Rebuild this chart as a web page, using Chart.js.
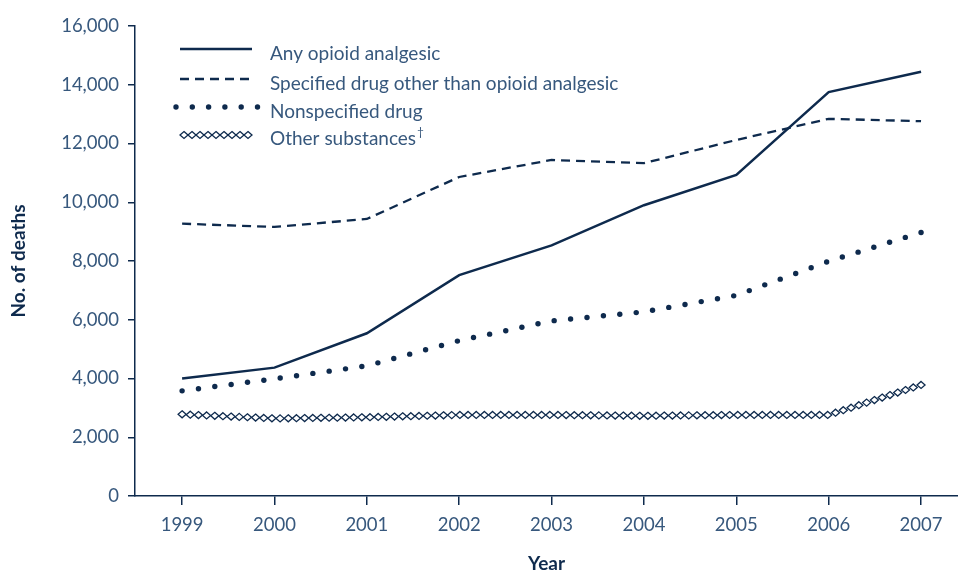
<!DOCTYPE html>
<html lang="en">
<head>
    <meta charset="UTF-8">
    <title>Deaths by drug type, 1999-2007</title>
    <script src="https://cdn.jsdelivr.net/npm/chart.js"></script>
    <style>
        html, body { margin: 0; padding: 0; background: #fff; }
        #wrap { position: relative; width: 958px; height: 570px; }
    </style>
</head>
<body>
    <div id="wrap"><canvas id="deathsChart"></canvas></div>

    <script>
        // Data
        const years = [1999, 2000, 2001, 2002, 2003, 2004, 2005, 2006, 2007];
        const anyOpioid = [4000, 4370, 5540, 7520, 8530, 9900, 10930, 13750, 14440];
        const specifiedOther = [9270, 9160, 9430, 10860, 11440, 11330, 12120, 12840, 12760];
        const nonspecified = [3580, 3990, 4430, 5290, 5960, 6270, 6830, 7990, 8970];
        const otherSubstances = [2780, 2640, 2680, 2760, 2760, 2730, 2760, 2760, 3780];
        const yTicks = [0, 2000, 4000, 6000, 8000, 10000, 12000, 14000, 16000];

        const navy = '#0e2a4d';
        const tickText = '#37587d';
        const fontFamily = 'Lato, "Open Sans", sans-serif';

        function pts(values) {
            return years.map((y, i) => ({ x: y, y: values[i] }));
        }

        function diamond(ctx, x, y, w, h) {
            ctx.beginPath();
            ctx.moveTo(x, y - h / 2);
            ctx.lineTo(x + w / 2, y);
            ctx.lineTo(x, y + h / 2);
            ctx.lineTo(x - w / 2, y);
            ctx.closePath();
            ctx.fillStyle = '#fff';
            ctx.fill();
            ctx.stroke();
        }

        function dot(ctx, x, y) {
            ctx.beginPath();
            ctx.arc(x, y, 2.7, 0, Math.PI * 2);
            ctx.fillStyle = navy;
            ctx.fill();
        }

        // walks along the dataset path and calls mark() at an even spacing
        function walkPath(p, wanted, mark) {
            let total = 0;
            for (let k = 0; k < p.length - 1; k++) total += Math.hypot(p[k + 1].x - p[k].x, p[k + 1].y - p[k].y);
            const n = Math.max(1, Math.round(total / wanted));
            const step = total / n;
            let carry = 0;
            for (let k = 0; k < p.length - 1; k++) {
                const dx = p[k + 1].x - p[k].x, dy = p[k + 1].y - p[k].y;
                const len = Math.hypot(dx, dy);
                let t = carry;
                while (t <= len + 0.01) {
                    mark(p[k].x + dx * t / len, p[k].y + dy * t / len);
                    t += step;
                }
                carry = t - len;
            }
        }

        // draws diamond chains and dot chains along the datasets
        const markedLines = {
            id: 'markedLines',
            afterDatasetsDraw(chart) {
                const ctx = chart.ctx;
                chart.data.datasets.forEach((ds, i) => {
                    const p = chart.getDatasetMeta(i).data;
                    ctx.save();
                    ctx.strokeStyle = navy;
                    ctx.lineWidth = 1.3;
                    if (ds.diamonds) walkPath(p, 8.2, (x, y) => diamond(ctx, x, y, 8, 7));
                    if (ds.dotted) walkPath(p, 16.4, (x, y) => dot(ctx, x, y));
                    ctx.restore();
                });
            }
        };

        // legend inside the plot, top left
        const insideLegend = {
            id: 'insideLegend',
            afterDraw(chart) {
                const ctx = chart.ctx;
                const rowY = [49, 79, 107, 134];
                const x0 = 180, x1 = 252, tx = 270;
                ctx.save();
                chart.data.datasets.forEach((ds, i) => {
                    const y = rowY[i];
                    ctx.strokeStyle = navy;
                    if (ds.diamonds) {
                        ctx.lineWidth = 1.3;
                        for (let x = x0 + 4; x <= x1; x += 8) diamond(ctx, x, y + 1, 8, 7);
                    } else if (ds.dotted) {
                        for (let x = 176; x <= 258; x += 16.3) dot(ctx, x, y);
                    } else {
                        ctx.beginPath();
                        ctx.lineWidth = ds.borderWidth;
                        ctx.setLineDash(ds.borderDash || []);
                        ctx.moveTo(x0, y);
                        ctx.lineTo(x1, y);
                        ctx.stroke();
                        ctx.setLineDash([]);
                    }
                    ctx.fillStyle = tickText;
                    ctx.font = '19px ' + fontFamily;
                    ctx.textBaseline = 'alphabetic';
                    ctx.textAlign = 'left';
                    ctx.fillText(ds.label, tx, y + 11);
                    if (ds.dagger) {
                        const w = ctx.measureText(ds.label).width;
                        ctx.font = '12px ' + fontFamily;
                        ctx.fillText('†', tx + w + 1, y + 2);
                    }
                });
                ctx.restore();
            }
        };

        const ctx = document.getElementById('deathsChart').getContext('2d');
        new Chart(ctx, {
            type: 'line',
            data: {
                datasets: [
                    {
                        label: 'Any opioid analgesic',
                        data: pts(anyOpioid),
                        borderColor: navy,
                        borderWidth: 2.5,
                        pointRadius: 0,
                        tension: 0
                    },
                    {
                        label: 'Specified drug other than opioid analgesic',
                        data: pts(specifiedOther),
                        borderColor: navy,
                        borderWidth: 2.3,
                        borderDash: [9, 6],
                        pointRadius: 0,
                        tension: 0
                    },
                    {
                        label: 'Nonspecified drug',
                        data: pts(nonspecified),
                        showLine: false,
                        dotted: true,
                        pointRadius: 0
                    },
                    {
                        label: 'Other substances',
                        data: pts(otherSubstances),
                        showLine: false,
                        pointRadius: 0,
                        diamonds: true,
                        dagger: true
                    }
                ]
            },
            options: {
                responsive: true,
                maintainAspectRatio: false,
                animation: false,
                layout: { padding: { top: 26, right: 0, left: 0, bottom: 0 } },
                plugins: {
                    legend: { display: false },
                    tooltip: { enabled: false }
                },
                scales: {
                    x: {
                        type: 'linear',
                        min: 1998.49,
                        max: 2007.4,
                        afterBuildTicks: (scale) => { scale.ticks = years.map(v => ({ value: v })); },
                        afterFit: (scale) => { scale.height = 74; },
                        border: { display: true, color: navy, width: 1.5 },
                        grid: { drawOnChartArea: false, drawTicks: true, tickLength: 9, color: navy, lineWidth: 1.5 },
                        ticks: {
                            padding: 9,
                            color: tickText,
                            font: { family: fontFamily, size: 18.5 },
                            maxRotation: 0,
                            callback: (v) => String(v)
                        },
                        title: {
                            display: true,
                            text: 'Year',
                            color: navy,
                            padding: { top: 12, bottom: -5 },
                            font: { family: fontFamily, size: 19, weight: 'bold' }
                        }
                    },
                    y: {
                        min: 0,
                        max: 16000,
                        afterBuildTicks: (scale) => { scale.ticks = yTicks.map(v => ({ value: v })); },
                        afterFit: (scale) => { scale.width = 135; },
                        border: { display: true, color: navy, width: 1.5 },
                        grid: { drawOnChartArea: false, drawTicks: true, tickLength: 7, color: navy, lineWidth: 1.5 },
                        ticks: {
                            padding: 9,
                            color: tickText,
                            font: { family: fontFamily, size: 18.5 },
                            callback: (v) => v.toLocaleString('en-US')
                        },
                        title: {
                            display: true,
                            text: 'No. of deaths',
                            color: navy,
                            padding: { top: 7, bottom: 0 },
                            font: { family: fontFamily, size: 19, weight: 'bold' }
                        }
                    }
                }
            },
            plugins: [markedLines, insideLegend]
        });
    </script>
</body>
</html>
